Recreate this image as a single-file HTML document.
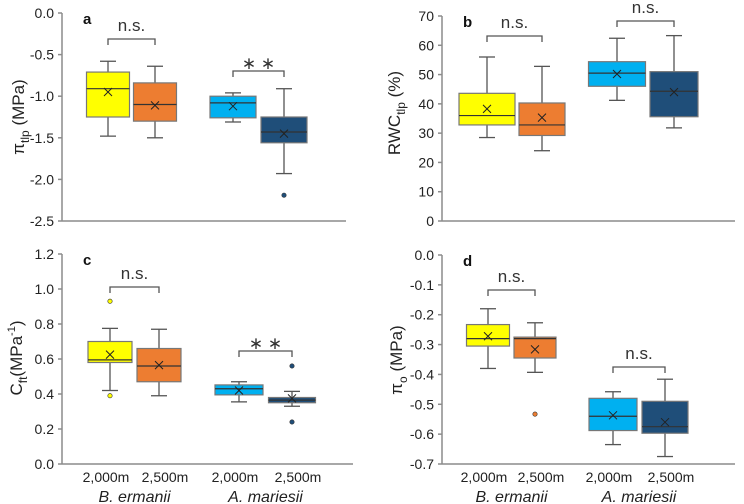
<!DOCTYPE html>
<html><head><meta charset="utf-8">
<style>
html,body{margin:0;padding:0;background:#fff;}
svg{display:block;font-family:"Liberation Sans",Arial,sans-serif;}
</style></head>
<body>
<svg id="chart" width="744" height="504" viewBox="0 0 744 504" xmlns="http://www.w3.org/2000/svg"></svg>
<script>
// ---- data (top-level arrays) ----
const groups = ["2,000m","2,500m","2,000m","2,500m"];
const species = ["B. ermanii","A. mariesii"];
const colors = ["#ffff00","#ed7d31","#00b0f0","#1f4e79"];

// panel a: pi_tlp (MPa)
const aWhiskHi = [-0.58,-0.64,-0.96,-0.91];
const aQ3 = [-0.71,-0.84,-1.00,-1.25];
const aMedian = [-0.91,-1.10,-1.08,-1.43];
const aQ1 = [-1.25,-1.30,-1.26,-1.56];
const aWhiskLo = [-1.48,-1.50,-1.31,-1.93];
const aMean = [-0.95,-1.11,-1.12,-1.45];
const aOutliers = [[],[],[],[-2.19]];
const aTicks = [0,-0.5,-1,-1.5,-2,-2.5];

// panel b: RWC_tlp (%)
const bWhiskHi = [56,52.8,62.4,63.3];
const bQ3 = [43.6,40.3,54.4,51];
const bMedian = [36,32.8,50.5,44.3];
const bQ1 = [32.8,29.2,46,35.6];
const bWhiskLo = [28.5,24,41.2,31.8];
const bMean = [38.3,35.3,50.2,44];
const bOutliers = [[],[],[],[]];
const bTicks = [0,10,20,30,40,50,60,70];

// panel c: C_ft (MPa-1)
const cWhiskHi = [0.775,0.77,0.47,0.415];
const cQ3 = [0.70,0.66,0.452,0.38];
const cMedian = [0.595,0.56,0.43,0.365];
const cQ1 = [0.58,0.47,0.395,0.35];
const cWhiskLo = [0.42,0.39,0.355,0.33];
const cMean = [0.625,0.565,0.42,0.375];
const cOutliers = [[0.93,0.39],[],[],[0.56,0.24]];
const cTicks = [0,0.2,0.4,0.6,0.8,1.0,1.2];

// panel d: pi_o (MPa)
const dWhiskHi = [-0.18,-0.227,-0.458,-0.416];
const dQ3 = [-0.233,-0.275,-0.48,-0.49];
const dMedian = [-0.28,-0.28,-0.54,-0.575];
const dQ1 = [-0.305,-0.345,-0.588,-0.597];
const dWhiskLo = [-0.38,-0.393,-0.635,-0.675];
const dMean = [-0.272,-0.316,-0.537,-0.56];
const dOutliers = [[],[-0.533],[],[]];
const dTicks = [0,-0.1,-0.2,-0.3,-0.4,-0.5,-0.6,-0.7];

const svg = document.getElementById('chart');
const NS = "http://www.w3.org/2000/svg";
function mk(tag, attrs, parent){
  const e = document.createElementNS(NS, tag);
  for (const k in attrs) e.setAttribute(k, attrs[k]);
  (parent||svg).appendChild(e);
  return e;
}

function panel(p){
  const g = mk('g', {});
  
  
  const y = v => p.y0 + (p.vmax - v) / (p.vmax - p.vmin) * (p.y1 - p.y0);
  // axes
  const ya = mk('line', {x1:p.ax, x2:p.ax, y1:y(p.vmax), y2:y(p.vmin), stroke:'#8c8c8c', 'stroke-width':1.5}, g);
  
  
  const xa = mk('line', {x1:p.ax, x2:p.axEnd, y1:y(p.vmin), y2:y(p.vmin), stroke:'#8c8c8c', 'stroke-width':1.5}, g);
  
  
  p.ticks.forEach(t => {
    mk('line', {x1:p.ax-4, x2:p.ax, y1:y(t), y2:y(t), stroke:'#8c8c8c', 'stroke-width':1.5}, g);
    const tl = mk('text', {x:p.ax-8, y:y(t)+5, 'text-anchor':'end', 'font-size':14, fill:'#222'}, g);
    tl.textContent = t.toFixed(p.dec);
    
    
  });
  // letter
  const lt = mk('text', {x:p.ax+21, y:y(p.vmax)+11, 'font-size':15, 'font-weight':'bold', fill:'#111'}, g);
  lt.textContent = p.letter;
  
  
  // y title
  const tt = mk('text', {x:0, y:0, 'font-size':17, fill:'#222', 'text-anchor':'middle',
    transform:`translate(${p.titleX},${p.titleY}) rotate(-90)`}, g);
  tt.innerHTML = p.title;
  
  
  // boxes
  p.cx.forEach((cx, i) => {
    const hw = p.hw[i];
    const bg = mk('g', {}, g);
    
    
    const wc = '#555';
    mk('line', {x1:cx, x2:cx, y1:y(p.hi[i]), y2:y(p.q3[i]), stroke:wc, 'stroke-width':1.3}, bg);
    mk('line', {x1:cx, x2:cx, y1:y(p.q1[i]), y2:y(p.lo[i]), stroke:wc, 'stroke-width':1.3}, bg);
    mk('line', {x1:cx-8, x2:cx+8, y1:y(p.hi[i]), y2:y(p.hi[i]), stroke:wc, 'stroke-width':1.3}, bg);
    mk('line', {x1:cx-8, x2:cx+8, y1:y(p.lo[i]), y2:y(p.lo[i]), stroke:wc, 'stroke-width':1.3}, bg);
    const top = Math.min(y(p.q3[i]), y(p.q1[i]));
    mk('rect', {x:cx-hw, y:top, width:2*hw, height:Math.abs(y(p.q1[i])-y(p.q3[i])), fill:colors[i], stroke:'#777', 'stroke-width':1.2}, bg);
    mk('line', {x1:cx-hw, x2:cx+hw, y1:y(p.med[i]), y2:y(p.med[i]), stroke:'#333', 'stroke-width':1.2}, bg);
    const my = y(p.mean[i]);
    mk('path', {d:`M${cx-4},${my-4}L${cx+4},${my+4}M${cx-4},${my+4}L${cx+4},${my-4}`, stroke:'#222', 'stroke-width':1}, bg);
    p.out[i].forEach(o => {
      const c = mk('circle', {cx:cx, cy:y(o), r:2.2, fill:colors[i], stroke:'#333', 'stroke-width':0.6}, bg);
      
      
    });
  });
  // significance brackets
  p.brackets.forEach(b => {
    const bk = mk('g', {}, g);
    
    
    const x1 = p.cx[b.i], x2 = p.cx[b.i+1];
    mk('path', {d:`M${x1},${b.y+6}V${b.y}H${x2}V${b.y+6}`, fill:'none', stroke:'#555', 'stroke-width':1.3}, bk);
    const ns = b.t === 'n.s.';
    const st = mk('text', {x:(x1+x2)/2, y:ns ? b.y-8 : b.y-2, 'text-anchor':'middle', 'font-size':ns?17:17, fill:'#333'}, bk);
    st.textContent = ns ? 'n.s.' : '\u2217 \u2217';
  });
  // x labels
  if (p.xlab){
    p.cx.forEach((cx, i) => {
      const xl = mk('text', {x:cx + (i%2? 6 : -4), y:482, 'text-anchor':'middle', 'font-size':14, fill:'#222'}, g);
      xl.textContent = groups[i];
      
      
    });
    [0,1].forEach(s => {
      const sx = (p.cx[2*s] + p.cx[2*s+1]) / 2;
      const sl = mk('text', {x:sx, y:502, 'text-anchor':'middle', 'font-size':16, 'font-style':'italic', fill:'#222'}, g);
      sl.textContent = species[s];
      
      
    });
  }
}

panel({letter:'a', ax:62, axEnd:346, vmax:0, vmin:-2.5, y0:13, y1:221, ticks:aTicks, dec:1,
  cx:[108,155,233,284], hw:[21.5,21.5,23,23],
  hi:aWhiskHi, q3:aQ3, med:aMedian, q1:aQ1, lo:aWhiskLo, mean:aMean, out:aOutliers,
  brackets:[{i:0,y:39,t:'n.s.'},{i:2,y:71,t:'**'}],
  title:'π<tspan font-size="12" dy="5">tlp</tspan><tspan dy="-5"> (MPa)</tspan>', titleX:24, titleY:117, xlab:false});

panel({letter:'b', ax:442, axEnd:735, vmax:70, vmin:0, y0:16, y1:221, ticks:bTicks, dec:0,
  cx:[487,542,617,674], hw:[28,23,28.5,24],
  hi:bWhiskHi, q3:bQ3, med:bMedian, q1:bQ1, lo:bWhiskLo, mean:bMean, out:bOutliers,
  brackets:[{i:0,y:36,t:'n.s.'},{i:2,y:21,t:'n.s.'}],
  title:'RWC<tspan font-size="12" dy="5">tlp</tspan><tspan dy="-5"> (%)</tspan>', titleX:400, titleY:113, xlab:false});

panel({letter:'c', ax:62, axEnd:353, vmax:1.2, vmin:0, y0:254, y1:464, ticks:cTicks, dec:1,
  cx:[110,159,239,292], hw:[22,22,24,23.5],
  hi:cWhiskHi, q3:cQ3, med:cMedian, q1:cQ1, lo:cWhiskLo, mean:cMean, out:cOutliers,
  brackets:[{i:0,y:287,t:'n.s.'},{i:2,y:351,t:'**'}],
  title:'C<tspan font-size="12" dy="5">ft</tspan><tspan dy="-5">(MPa</tspan><tspan font-size="11" dy="-7">-1</tspan><tspan dy="7">)</tspan>', titleX:22, titleY:358, xlab:true});

panel({letter:'d', ax:442, axEnd:735, vmax:0, vmin:-0.7, y0:255, y1:464, ticks:dTicks, dec:1,
  cx:[488,535,613,665], hw:[21.5,21,24,23],
  hi:dWhiskHi, q3:dQ3, med:dMedian, q1:dQ1, lo:dWhiskLo, mean:dMean, out:dOutliers,
  brackets:[{i:0,y:290,t:'n.s.'},{i:2,y:367,t:'n.s.'}],
  title:'π<tspan font-size="12" dy="5">o</tspan><tspan dy="-5"> (MPa)</tspan>', titleX:402, titleY:360, xlab:true});
</script>
</body></html>
